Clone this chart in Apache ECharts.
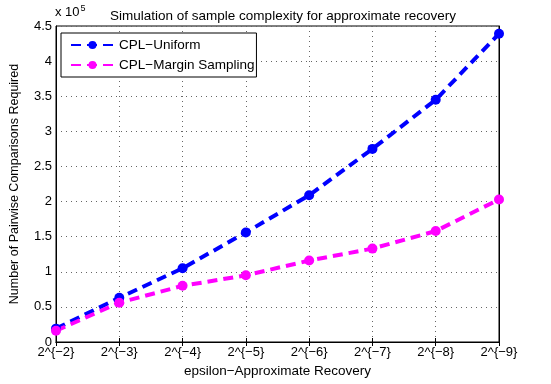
<!DOCTYPE html>
<html><head><meta charset="utf-8">
<script src="https://cdn.jsdelivr.net/npm/echarts@6/dist/echarts.min.js"></script>
<style>html,body{margin:0;padding:0;background:#fff}#c{width:551px;height:384px}</style>
</head><body><div id="c"></div>
<script>
var categories = ['2^{−2}','2^{−3}','2^{−4}','2^{−5}','2^{−6}','2^{−7}','2^{−8}','2^{−9}'];
var uniform = [19000, 63000, 105000, 156000, 209000, 275000, 345000, 439000];
var margin = [16000, 56000, 80000, 95000, 116000, 133000, 158000, 203000];
var yTicks = [0, 0.5, 1, 1.5, 2, 2.5, 3, 3.5, 4, 4.5];
var font = 'Liberation Sans, Arial, Helvetica, sans-serif';
var chart = echarts.init(document.getElementById('c'));
var dotted = {show:true, lineStyle:{color:'#666', type:[1,4], width:1}};
chart.setOption({
  animation:false,
  textStyle:{fontFamily:font},
  title:{text:'Simulation of sample complexity for approximate recovery', left:278, top:4, textAlign:'center',
    textStyle:{fontSize:13.5, fontWeight:'normal', color:'#000', fontFamily:font}},
  graphic:[{type:'text', left:55, top:4, style:{text:'x 10{s|5}', rich:{s:{fontSize:9, verticalAlign:'top', padding:[0,0,7,1]}}, font:'13px '+font, fill:'#000'}}],
  legend:{left:61, top:33, orient:'vertical', itemWidth:43, itemHeight:10, itemGap:6,
    padding:[5,2,5,9], borderColor:'#000', borderWidth:1, backgroundColor:'#fff',
    textStyle:{fontSize:13.5, color:'#000', fontFamily:font}},
  grid:{left:55, right:52, top:26, bottom:42, show:true, borderColor:'#000', borderWidth:1},
  xAxis:[{type:'category', data:categories, boundaryGap:false,
    name:'epsilon−Approximate Recovery', nameLocation:'middle', nameGap:22,
    nameTextStyle:{fontSize:13.5, color:'#000', fontFamily:font},
    axisLine:{show:true, lineStyle:{color:'#000'}}, axisTick:{inside:true, length:4, lineStyle:{color:'#000'}},
    axisLabel:{fontSize:13, color:'#000', margin:4, fontFamily:font}, splitLine:dotted},
    {type:'category', data:categories, boundaryGap:false, position:'top',
    axisLine:{show:true, lineStyle:{color:'#000'}}, axisTick:{inside:true, length:4, lineStyle:{color:'#000'}},
    axisLabel:{show:false}, splitLine:{show:false}}],
  yAxis:[{type:'value', min:0, max:450000, interval:50000,
    name:'Number of Pairwise Comparisons Required', nameLocation:'middle', nameGap:35,
    nameTextStyle:{fontSize:12.5, color:'#000', fontFamily:font},
    axisLine:{show:true, lineStyle:{color:'#000'}}, axisTick:{inside:true, length:4, lineStyle:{color:'#000'}},
    axisLabel:{fontSize:13, color:'#000', margin:4, fontFamily:font,
      formatter:function(v){ var i=Math.round(v/50000); return String(yTicks[i]); }}, splitLine:dotted},
    {type:'value', min:0, max:450000, interval:50000, position:'right',
    axisLine:{show:true, lineStyle:{color:'#000'}}, axisTick:{inside:true, length:4, lineStyle:{color:'#000'}},
    axisLabel:{show:false}, splitLine:{show:false}}],
  series:[
    {name:'CPL−Uniform', type:'line', data:uniform, symbol:'circle', symbolSize:10,
     lineStyle:{color:'#0000ff', width:4, type:[10,6]}, itemStyle:{color:'#0000ff'}},
    {name:'CPL−Margin Sampling', type:'line', data:margin, symbol:'circle', symbolSize:10,
     lineStyle:{color:'#ff00ff', width:4, type:[10,6]}, itemStyle:{color:'#ff00ff'}}
  ]
});
</script></body></html>
